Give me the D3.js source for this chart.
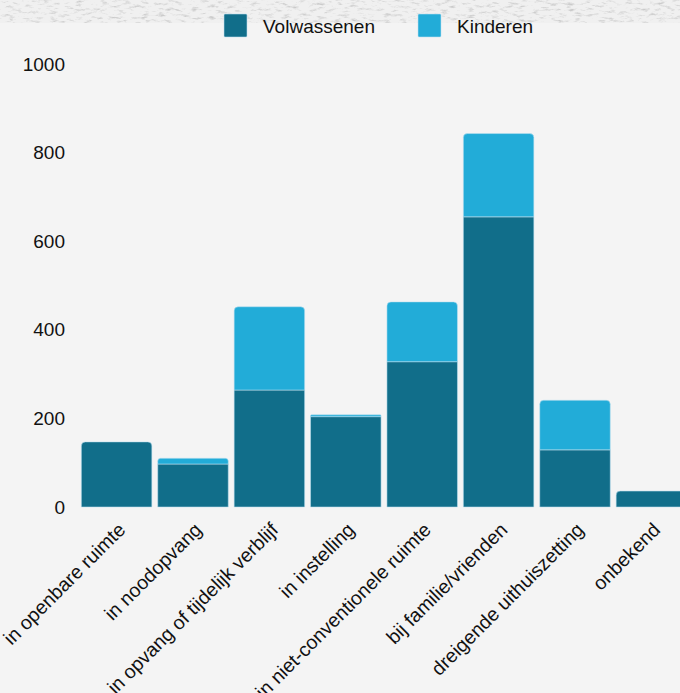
<!DOCTYPE html>
<html>
<head>
<meta charset="utf-8">
<script src="https://cdn.jsdelivr.net/npm/d3@7"></script>
<style>
  html, body { margin: 0; padding: 0; background: #f4f4f4; overflow: hidden; }
  svg { display: block; font-family: "Liberation Sans", Arial, sans-serif; }
</style>
</head>
<body>
<svg></svg>
<script>
var categories = ["in openbare ruimte", "in noodopvang", "in opvang of tijdelijk verblijf",
                  "in instelling", "in niet-conventionele ruimte", "bij familie/vrienden",
                  "dreigende uithuiszetting", "onbekend"];
var volwassenen = [147, 97, 264, 204, 328, 655, 129, 36];
var kinderen    = [0,   13, 188, 4,   135, 188, 112, 0];
var seriesNames = ["Volwassenen", "Kinderen"];
var yTicks = [0, 200, 400, 600, 800, 1000];

var colors = ["#116e8a", "#22acd8"];

var w = 680, h = 693;
var svg = d3.select("svg").attr("width", w).attr("height", h);

// textured strip at the top
var defs = svg.append("defs");
var f = defs.append("filter").attr("id", "grain").attr("x", 0).attr("y", 0).attr("width", 1).attr("height", 1);
f.append("feTurbulence").attr("type", "fractalNoise").attr("baseFrequency", "0.12 0.35")
  .attr("numOctaves", 4).attr("seed", 7).attr("result", "noise");
f.append("feColorMatrix").attr("in", "noise").attr("type", "matrix")
  .attr("values", "0 0 0 0 0.6  0 0 0 0 0.6  0 0 0 0 0.6  -3 0 0 0 1.45").attr("result", "specks");
f.append("feComposite").attr("in", "specks").attr("in2", "SourceGraphic").attr("operator", "over");

svg.append("rect").attr("width", w).attr("height", h).attr("fill", "#f4f4f4");
svg.append("rect").attr("width", w).attr("height", 23).attr("fill", "#f0f0f0").attr("filter", "url(#grain)");

var x = d3.scaleBand()
  .domain(categories)
  .range([78.4, 689.6])
  .paddingInner(0.077)
  .paddingOuter(0.0385);

var y = d3.scaleLinear().domain([0, 1000]).range([507, 64]);

var rows = categories.map(function(c, i) {
  return { cat: c, Volwassenen: volwassenen[i], Kinderen: kinderen[i] };
});
var stacked = d3.stack().keys(seriesNames)(rows);

// index of the top-most non-empty segment per category
var topKey = rows.map(function(r) { return r.Kinderen > 0 ? 1 : 0; });

function barPath(x0, y0, bw, bh, r) {
  r = Math.min(r, bh / 2, bw / 2);
  return "M" + x0 + "," + (y0 + bh) +
         "V" + (y0 + r) +
         "Q" + x0 + "," + y0 + " " + (x0 + r) + "," + y0 +
         "H" + (x0 + bw - r) +
         "Q" + (x0 + bw) + "," + y0 + " " + (x0 + bw) + "," + (y0 + r) +
         "V" + (y0 + bh) + "Z";
}

svg.append("g").selectAll("g")
  .data(stacked)
  .enter().append("g")
  .attr("fill", function(d, i) { return colors[i]; })
  .each(function(layer, li) {
    d3.select(this).selectAll("path")
      .data(layer.filter(function(d) { return d[1] - d[0] > 0; }))
      .enter().append("path")
      .attr("d", function(d) {
        var x0 = x(d.data.cat), bw = x.bandwidth();
        var yt = y(d[1]), bh = y(d[0]) - y(d[1]);
        var idx = categories.indexOf(d.data.cat);
        var r = topKey[idx] === li ? 4 : 0;
        return barPath(x0, yt, bw, bh, r);
      })
      .attr("stroke", "rgba(190,225,240,0.7)")
      .attr("stroke-width", 0.8);
  });

// y axis labels
svg.append("g").selectAll("text")
  .data(yTicks)
  .enter().append("text")
  .attr("x", 65)
  .attr("y", function(d) { return y(d); })
  .attr("dy", "0.35em")
  .attr("text-anchor", "end")
  .attr("font-size", 19)
  .attr("fill", "#111")
  .text(function(d) { return d; });

// x axis labels
svg.append("g").selectAll("text")
  .data(categories)
  .enter().append("text")
  .attr("transform", function(d) {
    return "translate(" + (x(d) + x.bandwidth() / 2 + 10) + ",531) rotate(-45)";
  })
  .attr("text-anchor", "end")
  .attr("font-size", 19.5)
  .attr("fill", "#111")
  .text(function(d) { return d; });

// legend
var legendX = [224, 418];
var legend = svg.append("g").selectAll("g")
  .data(seriesNames)
  .enter().append("g")
  .attr("transform", function(d, i) { return "translate(" + legendX[i] + ",14)"; });
legend.append("rect")
  .attr("width", 23).attr("height", 23).attr("rx", 1)
  .attr("fill", function(d, i) { return colors[i]; })
  .attr("stroke", "rgba(190,225,240,0.7)").attr("stroke-width", 0.8);
legend.append("text")
  .attr("x", 39).attr("y", 12)
  .attr("dy", "0.35em")
  .attr("font-size", 19)
  .attr("fill", "#111")
  .text(function(d) { return d; });
</script>
</body>
</html>
